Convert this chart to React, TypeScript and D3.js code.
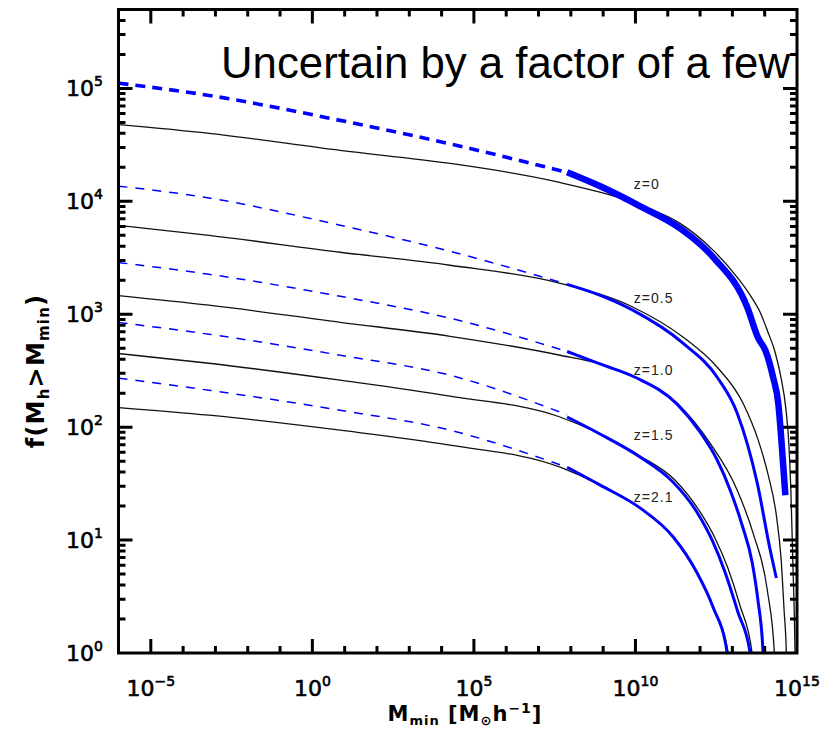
import React from "react";
import * as d3 from "d3";

type Pt = [number, number]; // [log10 Mmin, log10 f]

const xMajorExponents = [-5, 0, 5, 10, 15];
const xMinorExponents = [-4, -3, -2, -1, 1, 2, 3, 4, 6, 7, 8, 9, 11, 12, 13, 14];
const yMajorExponents = [0, 1, 2, 3, 4, 5];
const yMinorMantissas = [2, 3, 4, 5, 6, 7, 8, 9];
const redshiftLabels = ["z=0", "z=0.5", "z=1.0", "z=1.5", "z=2.1"];
const labelLogM = 9.95;
const labelLogF = [4.106, 3.097, 2.46, 1.885, 1.336];
const titleText = "Uncertain by a factor of a few";

const blackZ0: Pt[] = [
  [-6, 4.679], [-3.2, 4.602], [0.86, 4.451], [4.26, 4.336], [7.51, 4.177],
  [10.15, 3.965], [11.38, 3.805], [12.41, 3.566], [13.15, 3.327], [13.545, 3.171],
  [13.855, 3.02], [14.1, 2.843], [14.32, 2.666], [14.5, 2.445], [14.66, 2.152],
  [14.75, 1.842], [14.81, 1.444], [14.87, 0.824], [14.94, 0], [14.96, -0.4],
];
const blackZ05: Pt[] = [
  [-6, 3.788], [-3.2, 3.699], [0.86, 3.549], [4.26, 3.434], [7.67, 3.274],
  [9.93, 3.062], [11.48, 2.796], [12.53, 2.531], [13.33, 2.212], [13.8, 1.885],
  [14.11, 1.575], [14.36, 1.221], [14.51, 0.823], [14.6, 0.381], [14.67, 0], [14.7, -0.4],
];
const blackZ10: Pt[] = [
  [-6, 3.165], [-3.2, 3.08], [0.86, 2.929], [4.26, 2.805], [7.67, 2.637],
  [8.9, 2.56], [9.99, 2.442], [11.29, 2.212], [12.31, 1.858], [13.15, 1.442],
  [13.64, 1.062], [14.08, 0.558], [14.3, 0], [14.36, -0.4],
];
const blackZ15: Pt[] = [
  [-6, 2.652], [-3.2, 2.566], [0.86, 2.416], [4.26, 2.274], [7.665, 2.09],
  [8.9, 1.94], [10.14, 1.745], [11.22, 1.532], [12.0, 1.249], [12.46, 1.019],
  [12.86, 0.753], [13.23, 0.425], [13.61, 0], [13.7, -0.4],
];
const blackZ21: Pt[] = [
  [-6, 2.174], [-3.2, 2.106], [0.86, 1.973], [4.26, 1.841], [7.67, 1.646],
  [8.91, 1.487], [10.15, 1.283], [11.17, 1.027], [11.91, 0.708], [12.4, 0.407],
  [12.87, 0], [12.95, -0.4],
];

const blueDashZ0: Pt[] = [[-6, 5.047], [-3.2, 4.938], [0.86, 4.717], [4.26, 4.509], [7.885, 4.257]];
const blueDashZ05: Pt[] = [[-6, 4.135], [-3.2, 4.03], [0.86, 3.788], [4.26, 3.558], [7.885, 3.265]];
const blueDashZ10: Pt[] = [[-6, 3.458], [-3.2, 3.354], [0.86, 3.159], [4.26, 2.965], [7.885, 2.67]];
const blueDashZ15: Pt[] = [[-6, 2.927], [-3.2, 2.823], [0.86, 2.637], [4.26, 2.46], [7.885, 2.11]];
const blueDashZ21: Pt[] = [[-6, 2.434], [-3.2, 2.327], [0.86, 2.15], [4.26, 1.973], [7.885, 1.645]];

const blueZ0: Pt[] = [
  [7.885, 4.257], [8.91, 4.133], [10.15, 3.956], [11.38, 3.761], [12.41, 3.504],
  [13.46, 3.062], [13.8, 2.788], [14.02, 2.681], [14.26, 2.442], [14.42, 2.212],
  [14.54, 1.796], [14.64, 1.398],
];
const blueZ05: Pt[] = [
  [7.885, 3.265], [8.91, 3.168], [9.93, 3.035], [11.48, 2.743], [12.53, 2.442],
  [13.15, 2.124], [13.77, 1.504], [14.17, 0.912], [14.36, 0.664],
];
const blueZ10: Pt[] = [
  [7.885, 2.67], [8.9, 2.56], [9.99, 2.442], [11.29, 2.204], [12.0, 1.957],
  [12.53, 1.709], [12.93, 1.444], [13.3, 1.134], [13.61, 0.806], [13.79, 0.469],
  [13.95, 0], [13.99, -0.4],
];
const blueZ15: Pt[] = [
  [7.885, 2.09], [8.9, 1.94], [10.14, 1.736], [11.13, 1.523], [11.9, 1.249],
  [12.37, 1.001], [12.77, 0.717], [13.17, 0.363], [13.55, 0], [13.62, -0.4],
];
const blueZ21: Pt[] = [
  [7.885, 1.645], [8.91, 1.487], [10.15, 1.283], [11.17, 1.027], [11.91, 0.708],
  [12.4, 0.407], [12.84, 0], [12.92, -0.4],
];

const blackCurves = [blackZ0, blackZ05, blackZ10, blackZ15, blackZ21];
const blueDashed = [blueDashZ0, blueDashZ05, blueDashZ10, blueDashZ15, blueDashZ21];
const blueSolid = [blueZ0, blueZ05, blueZ10, blueZ15, blueZ21];

const BLUE = "#0000ff";
const TICK_FONT = "'DejaVu Sans', Verdana, sans-serif";
const TEXT_FONT = "'Liberation Sans', Arial, Helvetica, sans-serif";

const W = 827;
const H = 730;
const left = 118.5, right = 797, top = 9.5, bottom = 653;

export default function App() {
  const x = d3.scaleLog().domain([1e-6, 1e15]).range([left, right]);
  const y = d3.scaleLog().domain([1, 5e5]).range([bottom, top]);

  const line = d3
    .line<Pt>()
    .x((d) => x(Math.pow(10, d[0])))
    .y((d) => y(Math.pow(10, d[1])))
    .curve(d3.curveMonotoneX);

  const majorLen = 14;
  const minorLen = 7;

  // frame + all tick marks in one path
  const p = d3.path();
  p.moveTo(left, top);
  p.lineTo(right, top);
  p.lineTo(right, bottom);
  p.lineTo(left, bottom);
  p.closePath();
  const xTick = (v: number, len: number) => {
    const px = x(v);
    p.moveTo(px, bottom);
    p.lineTo(px, bottom - len);
    p.moveTo(px, top);
    p.lineTo(px, top + len);
  };
  const yTick = (v: number, len: number) => {
    const py = y(v);
    p.moveTo(left, py);
    p.lineTo(left + len, py);
    p.moveTo(right, py);
    p.lineTo(right - len, py);
  };
  xMajorExponents.forEach((e) => xTick(Math.pow(10, e), majorLen));
  xMinorExponents.forEach((e) => xTick(Math.pow(10, e), minorLen));
  yMajorExponents.forEach((e) => {
    if (e > 0) yTick(Math.pow(10, e), majorLen);
    yMinorMantissas.forEach((m) => {
      const v = m * Math.pow(10, e);
      if (v < 5e5) yTick(v, minorLen);
    });
  });
  const framePath = p.toString();

  return (
    <div style={{ position: "absolute", left: 0, top: 0, width: W, height: H, background: "#fff" }}>
      <svg width={W} height={H} viewBox={`0 0 ${W} ${H}`} style={{ display: "block" }}>
        <defs>
          <clipPath id="plotClip">
            <rect x={left} y={top} width={right - left} height={bottom - top} />
          </clipPath>
        </defs>
        <rect x={0} y={0} width={W} height={H} fill="#fff" />

        <g clipPath="url(#plotClip)">
          {blackCurves.map((c, i) => (
            <path key={"b" + i} d={line(c) || ""} fill="none" stroke="#111" strokeWidth={1.3} />
          ))}
          {blueDashed.map((c, i) => (
            <path
              key={"d" + i}
              d={line(c) || ""}
              fill="none"
              stroke={BLUE}
              strokeWidth={i === 0 ? 3.6 : 1.5}
              strokeDasharray={i === 0 ? "10 7" : "9 8"}
            />
          ))}
          {blueSolid.map((c, i) => (
            <path
              key={"s" + i}
              d={line(c) || ""}
              fill="none"
              stroke={BLUE}
              strokeWidth={i === 0 ? 6.5 : 3}
              strokeLinecap="butt"
            />
          ))}
        </g>

        {redshiftLabels.map((t, i) => (
          <text
            key={t}
            x={x(Math.pow(10, labelLogM))}
            y={y(Math.pow(10, labelLogF[i]))}
            fontFamily={TEXT_FONT}
            fontSize={14}
            letterSpacing={1}
            fill="#222"
          >
            {t}
          </text>
        ))}

        <path d={framePath} fill="none" stroke="#000" strokeWidth={3} />

        {xMajorExponents.map((e) => (
          <text
            key={"xl" + e}
            x={x(Math.pow(10, e))}
            y={696}
            textAnchor="middle"
            fontFamily={TICK_FONT}
            fontSize={22}
            fill="#000"
            stroke="#000"
            strokeWidth={0.6}
          >
            10
            <tspan dy={-10} fontSize={14}>
              {e < 0 ? "\u2212" + Math.abs(e) : String(e)}
            </tspan>
          </text>
        ))}

        {yMajorExponents.map((e) => (
          <text
            key={"yl" + e}
            x={103}
            y={y(Math.pow(10, e)) + 8}
            textAnchor="end"
            fontFamily={TICK_FONT}
            fontSize={22}
            fill="#000"
            stroke="#000"
            strokeWidth={0.6}
          >
            10
            <tspan dy={-10} fontSize={14}>
              {String(e)}
            </tspan>
          </text>
        ))}

        <text
          x={465}
          y={721}
          textAnchor="middle"
          fontFamily={TICK_FONT}
          fontWeight="bold"
          fontSize={21}
          letterSpacing={1}
          fill="#000"
        >
          M
          <tspan dy={4} fontSize={13}>min</tspan>
          <tspan dy={-4}>{" [M"}</tspan>
          <tspan dy={4} fontSize={13}>{"\u2299"}</tspan>
          <tspan dy={-4}>h</tspan>
          <tspan dy={-8} fontSize={14}>{"\u22121"}</tspan>
          <tspan dy={8}>]</tspan>
        </text>
        <text
          transform="translate(44,371) rotate(-90)"
          textAnchor="middle"
          fontFamily={TICK_FONT}
          fontWeight="bold"
          fontSize={24}
          letterSpacing={1.2}
          fill="#000"
        >
          f(M
          <tspan dy={5} fontSize={15}>h</tspan>
          <tspan dy={-5}>{">M"}</tspan>
          <tspan dy={5} fontSize={15}>min</tspan>
          <tspan dy={-5}>)</tspan>
        </text>

        <text
          x={221}
          y={78}
          fontFamily={TEXT_FONT}
          fontSize={44}
          textLength={569}
          lengthAdjust="spacingAndGlyphs"
          fill="#000"
        >
          {titleText}
        </text>
      </svg>
    </div>
  );
}
